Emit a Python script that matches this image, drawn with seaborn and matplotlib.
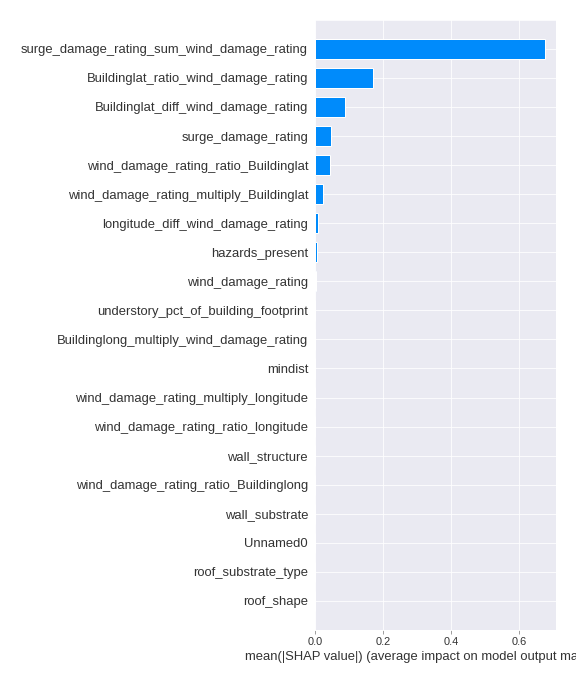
import matplotlib
matplotlib.use("Agg")
import matplotlib.pyplot as plt
import seaborn as sns

features = [
    "surge_damage_rating_sum_wind_damage_rating",
    "Buildinglat_ratio_wind_damage_rating",
    "Buildinglat_diff_wind_damage_rating",
    "surge_damage_rating",
    "wind_damage_rating_ratio_Buildinglat",
    "wind_damage_rating_multiply_Buildinglat",
    "longitude_diff_wind_damage_rating",
    "hazards_present",
    "wind_damage_rating",
    "understory_pct_of_building_footprint",
    "Buildinglong_multiply_wind_damage_rating",
    "mindist",
    "wind_damage_rating_multiply_longitude",
    "wind_damage_rating_ratio_longitude",
    "wall_structure",
    "wind_damage_rating_ratio_Buildinglong",
    "wall_substrate",
    "Unnamed0",
    "roof_substrate_type",
    "roof_shape",
]
mean_abs_shap = [0.676, 0.171, 0.088, 0.047, 0.044, 0.0235, 0.0088, 0.005,
                 0.0015, 0.0012, 0.0011, 0.0010, 0.0009, 0.0009, 0.0008,
                 0.0008, 0.0007, 0.0007, 0.0006, 0.0006]

sns.set_style("darkgrid")
plt.rcParams["font.family"] = ["Liberation Sans", "DejaVu Sans"]

fig = plt.figure(figsize=(8, 9.5), dpi=72)
ax = fig.add_axes([0.547, 0.079, 0.418, 0.892])

sns.barplot(x=mean_abs_shap, y=features, color="#008bfb", saturation=1,
            width=0.7, edgecolor="white", linewidth=1, ax=ax)

ax.yaxis.grid(True)
ax.set_ylim(len(features), -1)
ax.set_xlim(0, 0.709)
ax.set_xticks([0.0, 0.2, 0.4, 0.6])
ax.tick_params(axis="x", bottom=True, length=4, color="#888888", labelsize=11,
               labelcolor="#333333")
ax.tick_params(axis="y", left=False, labelsize=13, labelcolor="#333333")
ax.set_xlabel("mean(|SHAP value|) (average impact on model output magnitude)",
              fontsize=13, color="#333333")
ax.set_ylabel("")

fig.savefig("out.png", dpi=72)
